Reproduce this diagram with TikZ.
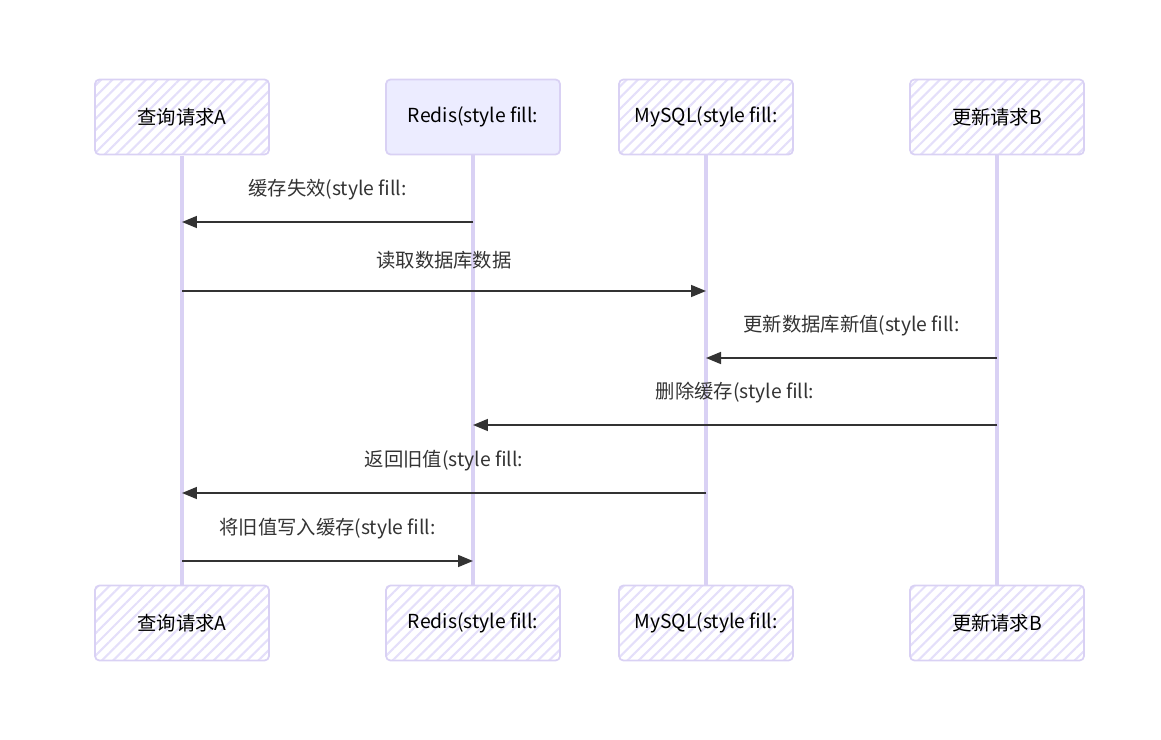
\documentclass[tikz,border=0pt]{standalone}
\usepackage{fontspec}
\setmainfont{Noto Sans CJK SC}
\usetikzlibrary{positioning,arrows.meta,patterns.meta}
\definecolor{lifeline}{HTML}{D9D1F4}
\definecolor{hatch}{HTML}{E4DFFA}
\definecolor{redisfill}{HTML}{ECECFF}
\definecolor{msgline}{HTML}{333333}

\begin{document}
\begin{tikzpicture}[x=0.02cm,y=-0.02cm,
  every node/.style={font=\fontsize{11pt}{13pt}\selectfont},
  actor/.style={rounded corners=2.5pt,draw=lifeline,line width=1pt,minimum width=3.48cm,minimum height=1.5cm,align=center,
    pattern={Lines[angle=45,distance=4.5pt,line width=1.2pt]},pattern color=hatch},
  solidactor/.style={actor,fill=redisfill},
  life/.style={lifeline,line width=1.8pt},
  msg/.style={-{Triangle[length=3mm,width=2.4mm]},msgline,line width=0.9pt},
  lbl/.style={text=msgline,above=8.5pt}]

\useasboundingbox (0,0) rectangle (1161,740);

% participants, top row
\node[actor] (qa) at (182,117) {查询请求A};
\node[solidactor] (redis) at (473,117) {Redis(style fill:};
\node[actor] (mysql) at (706,117) {MySQL(style fill:};
\node[actor] (qb) at (997,117) {更新请求B};

% participants, bottom row
\node[actor] (qa2) at (182,623) {查询请求A};
\node[actor] (redis2) at (473,623) {Redis(style fill:};
\node[actor] (mysql2) at (706,623) {MySQL(style fill:};
\node[actor] (qb2) at (997,623) {更新请求B};

% lifelines
\draw[life] (qa) -- (qa2);
\draw[life] (redis) -- (redis2);
\draw[life] (mysql) -- (mysql2);
\draw[life] (qb) -- (qb2);

% messages
\draw[msg] (redis |- 0,222) -- node[lbl] (m1) {缓存失效(style fill:} (qa |- 0,222);
\draw[msg] (qa |- 0,291) -- node[lbl] (m2) {读取数据库数据} (mysql |- 0,291);
\draw[msg] (qb |- 0,358) -- node[lbl] (m3) {更新数据库新值(style fill:} (mysql |- 0,358);
\draw[msg] (qb |- 0,425) -- node[lbl] (m4) {删除缓存(style fill:} (redis |- 0,425);
\draw[msg] (mysql |- 0,493) -- node[lbl] (m5) {返回旧值(style fill:} (qa |- 0,493);
\draw[msg] (qa |- 0,561) -- node[lbl] (m6) {将旧值写入缓存(style fill:} (redis |- 0,561);
\end{tikzpicture}
\end{document}
